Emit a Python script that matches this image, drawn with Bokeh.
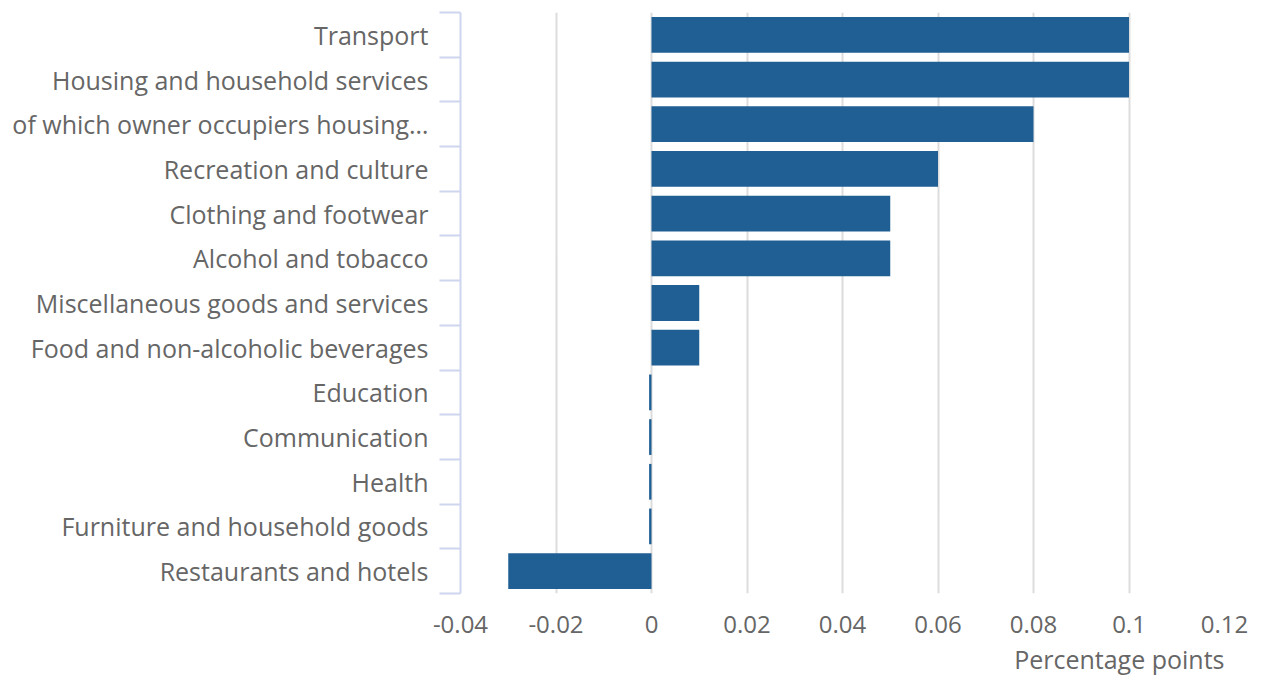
from bokeh.plotting import figure
from bokeh.models import FixedTicker, Title
from bokeh.embed import file_html
from bokeh.resources import INLINE

categories = [
    "Transport",
    "Housing and household services",
    "of which owner occupiers housing…",
    "Recreation and culture",
    "Clothing and footwear",
    "Alcohol and tobacco",
    "Miscellaneous goods and services",
    "Food and non-alcoholic beverages",
    "Education",
    "Communication",
    "Health",
    "Furniture and household goods",
    "Restaurants and hotels",
]
values = [0.1, 0.1, 0.08, 0.06, 0.05, 0.05, 0.01, 0.01, -0.0005, -0.0005, -0.0005, -0.0005, -0.03]
x_ticks = [-0.04, -0.02, 0, 0.02, 0.04, 0.06, 0.08, 0.1, 0.12]
x_tick_labels = ["-0.04", "-0.02", "0", "0.02", "0.04", "0.06", "0.08", "0.1", "0.12"]
x_title = "Percentage points"

n = len(categories)
ypos = [n - 1 - i for i in range(n)]  # top first
boundaries = [k - 0.5 for k in range(n + 1)]

FONT = "Open Sans"
TXT = "#666666"

p = figure(width=1248, height=679, output_backend="svg", toolbar_location=None,
           x_range=(-0.04, 0.12), y_range=(-0.5, n - 0.5),
           min_border_left=460, min_border_right=24, min_border_top=12, min_border_bottom=10)
p.outline_line_color = None

p.hbar(y=ypos, right=values, left=0, height=0.8, fill_color="#1f5f94", line_color=None)

# x axis
p.xaxis.ticker = FixedTicker(ticks=x_ticks)
p.xaxis.major_label_overrides = {t: l for t, l in zip(x_ticks, x_tick_labels)}
p.xaxis.axis_line_color = None
p.xaxis.major_tick_line_color = None
p.xaxis.minor_tick_line_color = None
p.xaxis.major_tick_out = 0
p.xaxis.major_tick_in = 0
p.xaxis.major_label_text_font = FONT
p.xaxis.major_label_text_font_size = "24px"
p.xaxis.major_label_text_color = TXT
p.xaxis.major_label_standoff = 22

t = Title(text=x_title, align="right", text_font=FONT, text_font_size="25px",
          text_font_style="normal", text_color=TXT, offset=0, standoff=8)
p.add_layout(t, "below")

# y axis
p.yaxis.ticker = FixedTicker(ticks=ypos, minor_ticks=boundaries)
p.yaxis.major_label_overrides = {y: c for y, c in zip(ypos, categories)}
p.yaxis.axis_line_color = "#cdd6ee"
p.yaxis.axis_line_width = 2
p.yaxis.major_tick_line_color = None
p.yaxis.major_tick_out = 0
p.yaxis.major_tick_in = 0
p.yaxis.minor_tick_line_color = "#cdd6ee"
p.yaxis.minor_tick_line_width = 2
p.yaxis.minor_tick_out = 21
p.yaxis.minor_tick_in = 0
p.yaxis.major_label_standoff = 11
p.yaxis.major_label_text_font = FONT
p.yaxis.major_label_text_font_size = "25px"
p.yaxis.major_label_text_color = TXT

p.ygrid.grid_line_color = None
p.xgrid.ticker = FixedTicker(ticks=x_ticks[1:])
p.xgrid.grid_line_color = "#dcdcdc"
p.xgrid.grid_line_width = 2

open("out.html", "w").write(file_html(p, INLINE))
